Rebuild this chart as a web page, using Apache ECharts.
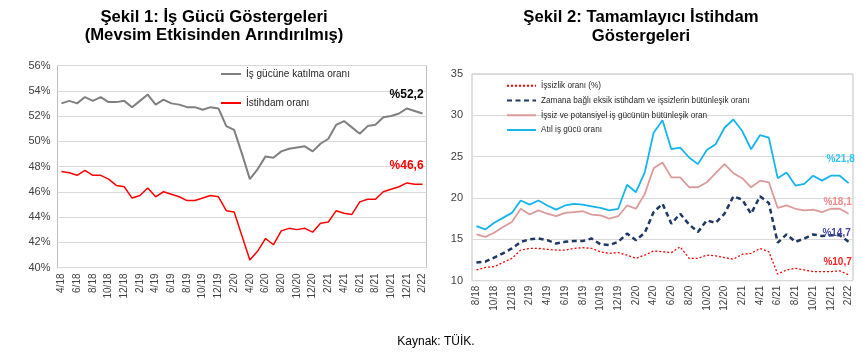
<!DOCTYPE html>
<html>
<head>
<meta charset="utf-8">
<script src="https://cdn.jsdelivr.net/npm/echarts@6/dist/echarts.min.js"></script>
<style>
html,body{margin:0;padding:0;background:#fff;}
#c{width:862px;height:355px;}
</style>
</head>
<body>
<div id="c"></div>
<script>
// ---------- Data ----------
const leftCats = ['4/18','5/18','6/18','7/18','8/18','9/18','10/18','11/18','12/18',
  '1/19','2/19','3/19','4/19','5/19','6/19','7/19','8/19','9/19','10/19','11/19','12/19',
  '1/20','2/20','3/20','4/20','5/20','6/20','7/20','8/20','9/20','10/20','11/20','12/20',
  '1/21','2/21','3/21','4/21','5/21','6/21','7/21','8/21','9/21','10/21','11/21','12/21',
  '1/22','2/22'];
const participation = [53.0,53.2,53.0,53.5,53.2,53.5,53.1,53.1,53.2,
  52.7,53.2,53.7,52.9,53.3,53.0,52.9,52.7,52.7,52.5,52.7,52.6,
  51.2,50.9,49.0,47.0,47.8,48.8,48.7,49.2,49.4,49.5,49.6,49.2,
  49.8,50.2,51.3,51.6,51.1,50.6,51.2,51.3,51.9,52.0,52.2,52.6,
  52.4,52.2];
const employment = [47.6,47.5,47.3,47.7,47.3,47.3,47.0,46.5,46.4,
  45.5,45.7,46.3,45.6,46.0,45.8,45.6,45.3,45.3,45.5,45.7,45.6,
  44.5,44.4,42.5,40.6,41.3,42.3,41.8,42.9,43.1,43.0,43.1,42.8,
  43.5,43.6,44.5,44.3,44.2,45.2,45.4,45.4,46.0,46.2,46.4,46.7,
  46.6,46.6];

const rightCats = ['8/18','9/18','10/18','11/18','12/18',
  '1/19','2/19','3/19','4/19','5/19','6/19','7/19','8/19','9/19','10/19','11/19','12/19',
  '1/20','2/20','3/20','4/20','5/20','6/20','7/20','8/20','9/20','10/20','11/20','12/20',
  '1/21','2/21','3/21','4/21','5/21','6/21','7/21','8/21','9/21','10/21','11/21','12/21',
  '1/22','2/22'];
const unemployment = [11.3,11.6,11.7,12.2,12.7,
  13.7,13.9,13.9,13.8,13.7,13.7,13.9,14.0,13.9,13.5,13.3,13.4,
  13.1,12.7,13.1,13.6,13.5,13.4,14.1,12.7,12.7,13.1,13.0,12.8,
  12.6,13.2,13.3,13.9,13.5,10.8,11.3,11.5,11.3,11.1,11.1,11.1,
  11.2,10.7];
const timeRelated = [12.2,12.3,12.8,13.3,13.9,
  14.7,15.0,15.1,14.9,14.5,14.7,14.8,14.8,15.1,14.4,14.3,14.7,
  15.7,14.9,15.8,18.3,19.3,16.9,18.1,16.8,15.9,17.3,17.0,18.1,
  20.2,19.8,18.1,20.2,19.4,14.6,15.6,14.7,15.1,15.6,15.4,15.5,
  15.5,14.7];
const potential = [15.6,15.3,15.8,16.5,17.1,
  18.7,18.0,18.5,18.1,17.8,18.2,18.3,18.4,18.0,17.9,17.5,17.8,
  19.1,18.7,20.5,23.6,24.3,22.5,22.5,21.3,21.3,21.9,23.0,24.1,
  23.0,22.4,21.3,22.1,21.9,18.8,19.1,18.7,18.5,18.6,18.3,18.7,
  18.7,18.1];
const slack = [16.6,16.2,17.0,17.6,18.2,
  19.7,19.2,19.7,19.1,18.6,19.1,19.3,19.2,19.0,18.8,18.5,18.7,
  21.6,20.7,23.1,27.9,29.4,25.9,26.1,24.9,24.1,25.8,26.5,28.5,
  29.5,28.1,25.9,27.6,27.3,22.4,23.1,21.5,21.7,22.7,22.1,22.7,
  22.7,21.8];

const leftNames = ['İş gücüne katılma oranı','İstihdam oranı'];
const rightNames = ['İşsizlik oranı (%)',
  'Zamana bağlı eksik istihdam ve işsizlerin bütünleşik oranı',
  'İşsiz ve potansiyel iş gücünün bütünleşik oran',
  'Atıl iş gücü oranı'];

// ---------- Chart ----------
const FONT = 'Liberation Sans, Arial, sans-serif';
const chart = echarts.init(document.getElementById('c'), null, {renderer:'canvas'});

function endLabel(arr, cats, color, size, offset){
  const n = arr.length - 1;
  return {
    symbol:'circle', symbolSize:0, silent:true,
    data:[{coord:[cats[n], arr[n]], value:arr[n]}],
    label:{show:true, position:'inside', offset:offset,
      formatter:'%' + arr[n].toFixed(1).replace('.', ','),
      color:color, fontWeight:'bold', fontSize:size, fontFamily:FONT},
    itemStyle:{color:'transparent'}
  };
}

const gridBorder = '#bfbfbf';
const splitColor = '#d9d9d9';
const labelColor = '#404040';

chart.setOption({
  animation:false,
  textStyle:{fontFamily:FONT},
  grid:[
    {left:57.5, top:65.5, width:369, height:202, show:true, borderColor:gridBorder, borderWidth:1, backgroundColor:'#fff'},
    {left:472, top:74, width:381, height:206.7, show:true, borderColor:gridBorder, borderWidth:1, backgroundColor:'#fff'}
  ],
  xAxis:[
    {gridIndex:0, type:'category', data:leftCats, boundaryGap:true,
      axisLine:{show:false}, axisTick:{show:false},
      axisLabel:{rotate:90, interval:1, fontSize:10, color:labelColor, margin:6, fontFamily:FONT}},
    {gridIndex:1, type:'category', data:rightCats, boundaryGap:true,
      axisLine:{show:false}, axisTick:{show:false},
      axisLabel:{rotate:90, interval:1, fontSize:10, color:labelColor, margin:5, fontFamily:FONT}}
  ],
  yAxis:[
    {gridIndex:0, type:'value', min:40, max:56, interval:2,
      axisLine:{show:false}, axisTick:{show:false},
      splitLine:{lineStyle:{color:splitColor, width:1}},
      axisLabel:{formatter:'{value}%', fontSize:11, color:labelColor, margin:7, fontFamily:FONT}},
    {gridIndex:1, type:'value', min:10, max:35, interval:5,
      axisLine:{show:false}, axisTick:{show:false},
      splitLine:{lineStyle:{color:splitColor, width:1}},
      axisLabel:{fontSize:11, color:labelColor, margin:9, fontFamily:FONT}}
  ],
  legend:[
    {data:leftNames, orient:'vertical', left:220, top:69, padding:0, itemWidth:20, itemHeight:10, itemGap:19,
      itemStyle:{opacity:0},
      textStyle:{fontSize:10, lineHeight:10, color:'#262626', fontFamily:FONT}, selectedMode:false},
    {data:rightNames, orient:'vertical', left:506, top:81.5, padding:0, itemWidth:29, itemHeight:8, itemGap:6.5,
      itemStyle:{opacity:0},
      textStyle:{fontSize:8.2, lineHeight:8.3, color:'#262626', fontFamily:FONT}, selectedMode:false}
  ],
  graphic:[
    {type:'text', x:214, y:17, style:{text:'Şekil 1: İş Gücü Göstergeleri', textAlign:'center', textVerticalAlign:'middle', font:'bold 16.7px ' + FONT, fill:'#000'}},
    {type:'text', x:214, y:35.5, style:{text:'(Mevsim Etkisinden Arındırılmış)', textAlign:'center', textVerticalAlign:'middle', font:'bold 16.7px ' + FONT, fill:'#000'}},
    {type:'text', x:641, y:17, style:{text:'Şekil 2: Tamamlayıcı İstihdam', textAlign:'center', textVerticalAlign:'middle', font:'bold 16.7px ' + FONT, fill:'#000'}},
    {type:'text', x:641, y:36, style:{text:'Göstergeleri', textAlign:'center', textVerticalAlign:'middle', font:'bold 16.7px ' + FONT, fill:'#000'}},
    {type:'text', x:436, y:342, style:{text:'Kaynak: TÜİK.', textAlign:'center', textVerticalAlign:'middle', font:'12px ' + FONT, fill:'#000'}}
  ],
  series:[
    {name:leftNames[0], type:'line', xAxisIndex:0, yAxisIndex:0, data:participation,
      symbol:'none', lineStyle:{color:'#808080', width:2}, itemStyle:{color:'#808080'},
      markPoint:endLabel(participation, leftCats, '#000', 12, [-16,-19])},
    {name:leftNames[1], type:'line', xAxisIndex:0, yAxisIndex:0, data:employment,
      symbol:'none', lineStyle:{color:'#ff0000', width:1.5}, itemStyle:{color:'#ff0000'},
      markPoint:endLabel(employment, leftCats, '#ff0000', 12, [-16,-18])},
    {name:rightNames[0], type:'line', xAxisIndex:1, yAxisIndex:1, data:unemployment,
      symbol:'none', lineStyle:{color:'#ff0000', width:1.3, type:[2,2]}, itemStyle:{color:'#ff0000'},
      markPoint:endLabel(unemployment, rightCats, '#ff2020', 10, [-11,-13])},
    {name:rightNames[1], type:'line', xAxisIndex:1, yAxisIndex:1, data:timeRelated,
      symbol:'none', lineStyle:{color:'#1f3864', width:2.5, type:[5,3.5]}, itemStyle:{color:'#1f3864'},
      markPoint:endLabel(timeRelated, rightCats, '#4646a8', 10, [-12,-9])},
    {name:rightNames[2], type:'line', xAxisIndex:1, yAxisIndex:1, data:potential,
      symbol:'none', lineStyle:{color:'#dc9a9a', width:1.8}, itemStyle:{color:'#dc9a9a'},
      markPoint:endLabel(potential, rightCats, '#f28a8a', 10, [-11,-11.5])},
    {name:rightNames[3], type:'line', xAxisIndex:1, yAxisIndex:1, data:slack,
      symbol:'none', lineStyle:{color:'#16b4ee', width:1.8}, itemStyle:{color:'#16b4ee'},
      markPoint:endLabel(slack, rightCats, '#2ec4f4', 10, [-8,-24])}
  ]
});
</script>
</body>
</html>
